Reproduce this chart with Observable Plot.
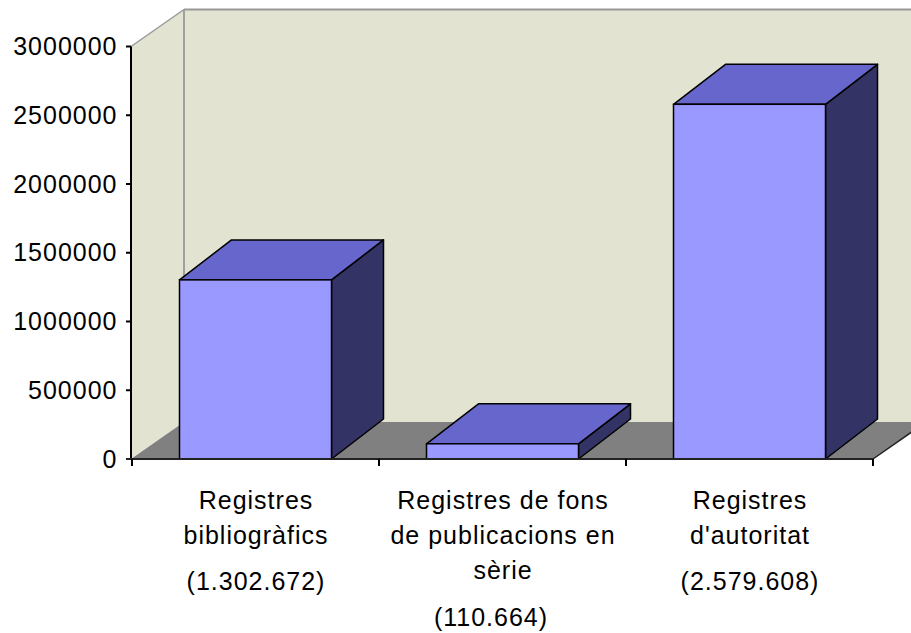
<!DOCTYPE html>
<html>
<head>
<meta charset="utf-8">
<script src="https://cdn.jsdelivr.net/npm/d3@7"></script>
<script src="https://cdn.jsdelivr.net/npm/@observablehq/plot@0.6"></script>
<style>
  html, body { margin: 0; padding: 0; background: #ffffff; }
  #chart svg text { letter-spacing: 1px; }
</style>
</head>
<body>
<div id="chart"></div>
<script>
// ---- data ----
const categories = [
  "Registres\nbibliogràfics",
  "Registres de fons\nde publicacions en\nsèrie",
  "Registres\nd'autoritat"
];
const values = [1302672, 110664, 2579608];
const valueLabels = ["(1.302.672)", "(110.664)", "(2.579.608)"];
const yTicks = [0, 500000, 1000000, 1500000, 2000000, 2500000, 3000000];
const yMax = 3000000;

const rows = categories.map((c, i) => ({
  category: c, value: values[i], label: valueLabels[i], lines: c.split("\n").length
}));

// ---- style ----
const colors = {front: "#9999FF", top: "#6666CC", side: "#333366", wall: "#E3E3D2", floor: "#808080"};
const wallDepth = {dx: 53, dy: 37};
const barDepth = {dx: 52, dy: 40};
const inset = 47.5;
const poly = pts => pts.map(p => p.join(",")).join(" ");

function walls(index, {x, y}) {
  const [xa, xb] = x.range();
  const y0 = y(0), y1 = y(yMax);
  const {dx, dy} = wallDepth;
  const g = d3.create("svg:g");
  g.append("polygon").attr("points", poly([[xa, y1], [xa + dx, y1 - dy], [xa + dx, y0 - dy], [xa, y0]])).attr("fill", colors.wall);
  g.append("polygon").attr("points", poly([[xa + dx, y1 - dy], [xb + dx, y1 - dy], [xb + dx, y0 - dy], [xa + dx, y0 - dy]])).attr("fill", colors.wall);
  g.append("polygon").attr("points", poly([[xa, y0], [xb, y0], [xb + dx, y0 - dy], [xa + dx, y0 - dy]])).attr("fill", colors.floor);
  // wall edges
  g.append("line").attr("x1", xa + dx).attr("x2", xb + dx).attr("y1", y1 - dy).attr("y2", y1 - dy).attr("stroke", "#999").attr("stroke-width", 2);
  g.append("line").attr("x1", xa + dx).attr("x2", xa + dx).attr("y1", y1 - dy).attr("y2", y0 - dy).attr("stroke", "#A0A0A0").attr("stroke-width", 2);
  g.append("line").attr("x1", xa).attr("x2", xa + dx).attr("y1", y1).attr("y2", y1 - dy).attr("stroke", "#999").attr("stroke-width", 1.5);
  // floor right edge
  g.append("line").attr("x1", xb).attr("x2", xb + dx).attr("y1", y0).attr("y2", y0 - dy).attr("stroke", "#222").attr("stroke-width", 1.5);
  return g.node();
}

function barFaces(index, {x, y}) {
  const {dx, dy} = barDepth;
  const g = d3.create("svg:g").attr("stroke", "#000").attr("stroke-width", 1.5).attr("stroke-linejoin", "round");
  rows.forEach(d => {
    const xl = x(d.category) + inset;
    const xr = x(d.category) + x.bandwidth() - inset;
    const yt = y(d.value), yb = y(0);
    g.append("polygon").attr("points", poly([[xr, yt], [xr + dx, yt - dy], [xr + dx, yb - dy], [xr, yb]])).attr("fill", colors.side);
    g.append("polygon").attr("points", poly([[xl, yt], [xr, yt], [xr + dx, yt - dy], [xl + dx, yt - dy]])).attr("fill", colors.top);
  });
  return g.node();
}

function axes(index, {x, y}) {
  const [xa, xb] = x.range();
  const y0 = y(0), y1 = y(yMax);
  const g = d3.create("svg:g").attr("stroke", "#000").attr("stroke-width", 2);
  g.append("line").attr("x1", xa).attr("x2", xa).attr("y1", y1).attr("y2", y0 + 1);
  yTicks.forEach(t => {
    g.append("line").attr("x1", xa - 5).attr("x2", xa).attr("y1", y(t)).attr("y2", y(t));
  });
  g.append("line").attr("x1", xa - 5).attr("x2", xb).attr("y1", y0).attr("y2", y0).attr("stroke", "#222");
  const bounds = categories.map(c => x(c)).concat([xb]);
  bounds.forEach(bx => {
    g.append("line").attr("x1", bx).attr("x2", bx).attr("y1", y0).attr("y2", y0 + 7);
  });
  return g.node();
}

const chart = Plot.plot({
  width: 911,
  height: 633,
  marginLeft: 131,
  marginRight: 38,
  marginTop: 46.5,
  marginBottom: 174,
  style: {fontFamily: "'Liberation Sans', Arial, sans-serif", fontSize: "25px", background: "#ffffff", color: "#000"},
  x: {domain: categories, padding: 0, axis: null},
  y: {domain: [0, yMax], ticks: yTicks, tickFormat: d => String(d), tickSize: 0, tickPadding: 14, label: null},
  marks: [
    walls,
    barFaces,
    Plot.barY(rows, {x: "category", y: "value", fill: colors.front, stroke: "#000", strokeWidth: 1.5, insetLeft: inset, insetRight: inset}),
    axes,
    Plot.text(rows, {x: "category", y: 0, text: "category", lineAnchor: "top", lineHeight: 1.4, dy: 25, fontSize: 25, fill: "#000"}),
    Plot.text(rows.filter(d => d.lines === 2), {x: "category", y: 0, text: "label", lineAnchor: "top", dy: 113, fontSize: 25, fill: "#000"}),
    Plot.text(rows.filter(d => d.lines === 3), {x: "category", y: 0, text: "label", lineAnchor: "top", dy: 149, dx: -12, fontSize: 25, fill: "#000"})
  ]
});
document.getElementById("chart").appendChild(chart);
</script>
</body>
</html>
